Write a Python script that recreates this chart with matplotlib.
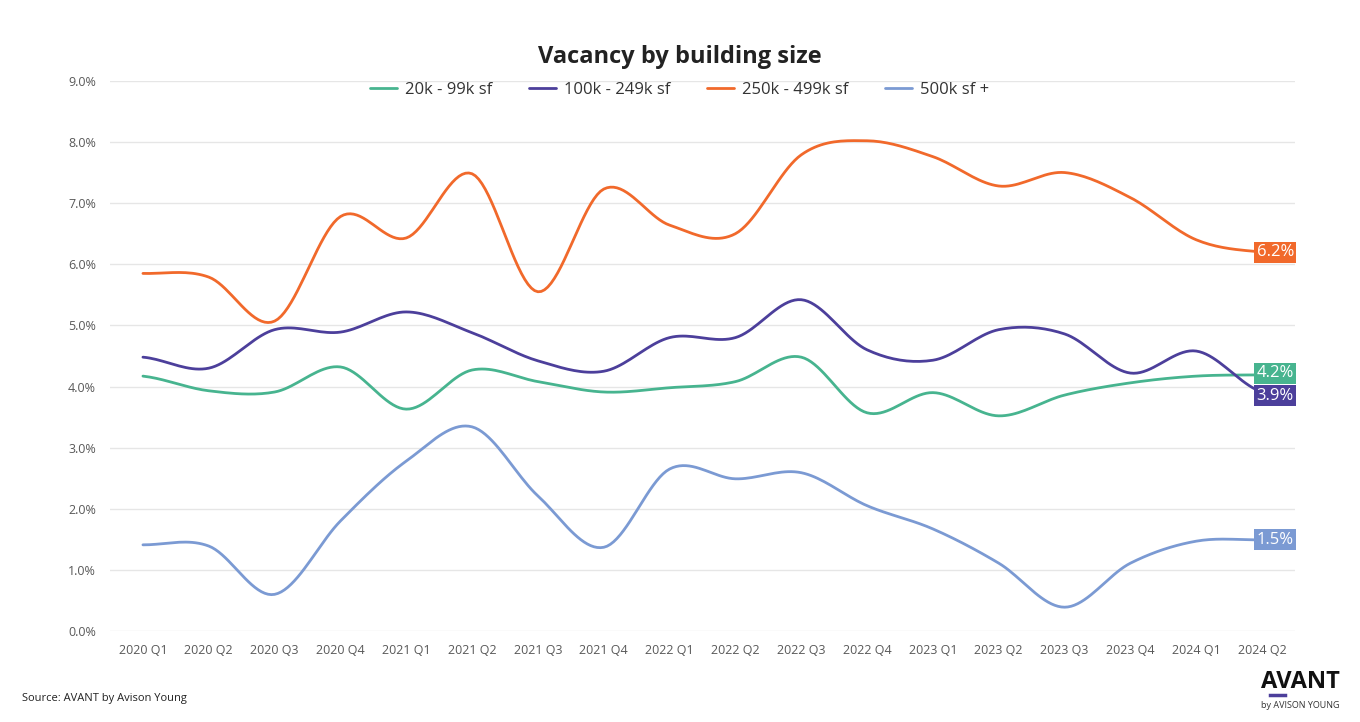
import matplotlib.pyplot as plt
import numpy as np

quarters = ['2020 Q1', '2020 Q2', '2020 Q3', '2020 Q4',
            '2021 Q1', '2021 Q2', '2021 Q3', '2021 Q4',
            '2022 Q1', '2022 Q2', '2022 Q3', '2022 Q4',
            '2023 Q1', '2023 Q2', '2023 Q3', '2023 Q4',
            '2024 Q1', '2024 Q2']

small  = [4.17, 3.93, 3.91, 4.32, 3.63, 4.27, 4.08, 3.91, 3.98,
          4.08, 4.48, 3.57, 3.90, 3.52, 3.86, 4.06, 4.17, 4.19]
mid    = [4.48, 4.30, 4.93, 4.89, 5.22, 4.88, 4.42, 4.25, 4.80,
          4.80, 5.42, 4.60, 4.43, 4.93, 4.86, 4.22, 4.58, 3.91]
large  = [5.85, 5.79, 5.07, 6.78, 6.43, 7.48, 5.55, 7.23, 6.64,
          6.50, 7.79, 8.02, 7.76, 7.28, 7.50, 7.09, 6.40, 6.20]
xlarge = [1.41, 1.39, 0.60, 1.80, 2.78, 3.34, 2.21, 1.37, 2.65,
          2.49, 2.59, 2.05, 1.67, 1.11, 0.39, 1.11, 1.47, 1.49]

series = [
    ('20k - 99k sf', small, '#47B48F'),
    ('100k - 249k sf', mid, '#4C3F9B'),
    ('250k - 499k sf', large, '#F1692B'),
    ('500k sf +', xlarge, '#7B9AD3'),
]
end_offsets = [0.03, -0.06, 0.0, 0.0]


def smooth(y, n=20):
    # catmull-rom through the points, like the smoothed line in the original
    p = np.concatenate([[y[0]], y, [y[-1]]])
    xs, ys = [], []
    for i in range(len(y) - 1):
        p0, p1, p2, p3 = p[i], p[i + 1], p[i + 2], p[i + 3]
        t = np.linspace(0, 1, n, endpoint=False)
        v = 0.5 * ((2 * p1) + (-p0 + p2) * t
                   + (2 * p0 - 5 * p1 + 4 * p2 - p3) * t ** 2
                   + (-p0 + 3 * p1 - 3 * p2 + p3) * t ** 3)
        xs.append(i + t)
        ys.append(v)
    xs.append([len(y) - 1])
    ys.append([y[-1]])
    return np.concatenate(xs), np.concatenate(ys)


plt.rcParams['font.family'] = ['Open Sans', 'DejaVu Sans']

fig = plt.figure(figsize=(13.6, 7.22), dpi=100)
ax = fig.add_axes([0.0809, 0.126, 0.8713, 0.762])

x = np.arange(len(quarters))
for (name, vals, color), off in zip(series, end_offsets):
    vals = np.array(vals) / 100
    sx, sy = smooth(vals)
    ax.plot(sx, sy, color=color, lw=2, label=name, solid_capstyle='round')
    ax.text(x[-1] + 0.2, vals[-1] + off / 100, f'{vals[-1] * 100:.1f}%',
            color='white', fontsize=12, ha='center', va='center',
            bbox=dict(boxstyle='square,pad=0.15', fc=color, ec='none'))

ax.set_xlim(-0.5, len(quarters) - 0.5)
ax.set_ylim(0, 0.09)
ax.set_yticks(np.arange(0, 0.091, 0.01))
ax.set_yticklabels([f'{v:.1f}%' for v in np.arange(0, 9.1, 1)])
ax.set_xticks(x)
ax.set_xticklabels(quarters)
ax.tick_params(axis='both', length=0, labelsize=9, labelcolor='#595959')
ax.tick_params(axis='y', pad=10)
ax.tick_params(axis='x', pad=9)
ax.grid(axis='y', color='#E6E6E6', lw=1)
ax.set_axisbelow(True)
for s in ax.spines.values():
    s.set_visible(False)

fig.text(0.5, 0.921, 'Vacancy by building size', ha='center', va='center',
         fontsize=17, fontweight='bold', color='#222222')
fig.legend(loc='center', bbox_to_anchor=(0.5, 0.875), ncol=4, frameon=False,
           fontsize=12, handlelength=1.6, columnspacing=2.2, handletextpad=0.5,
           labelcolor='#333333')

fig.text(0.016, 0.033, 'Source: AVANT by Avison Young', fontsize=8,
         color='#222222', va='center')
fig.text(0.985, 0.056, 'AVANT', fontsize=17, fontweight='bold', ha='right',
         va='center', color='#111111')
fig.add_artist(plt.Line2D([0.934, 0.945], [0.037, 0.037], color='#4C3F9B', lw=2.5))
fig.text(0.985, 0.023, 'by AVISON YOUNG', fontsize=6.5, ha='right',
         va='center', color='#333333')

plt.savefig('out.png', dpi=100)
